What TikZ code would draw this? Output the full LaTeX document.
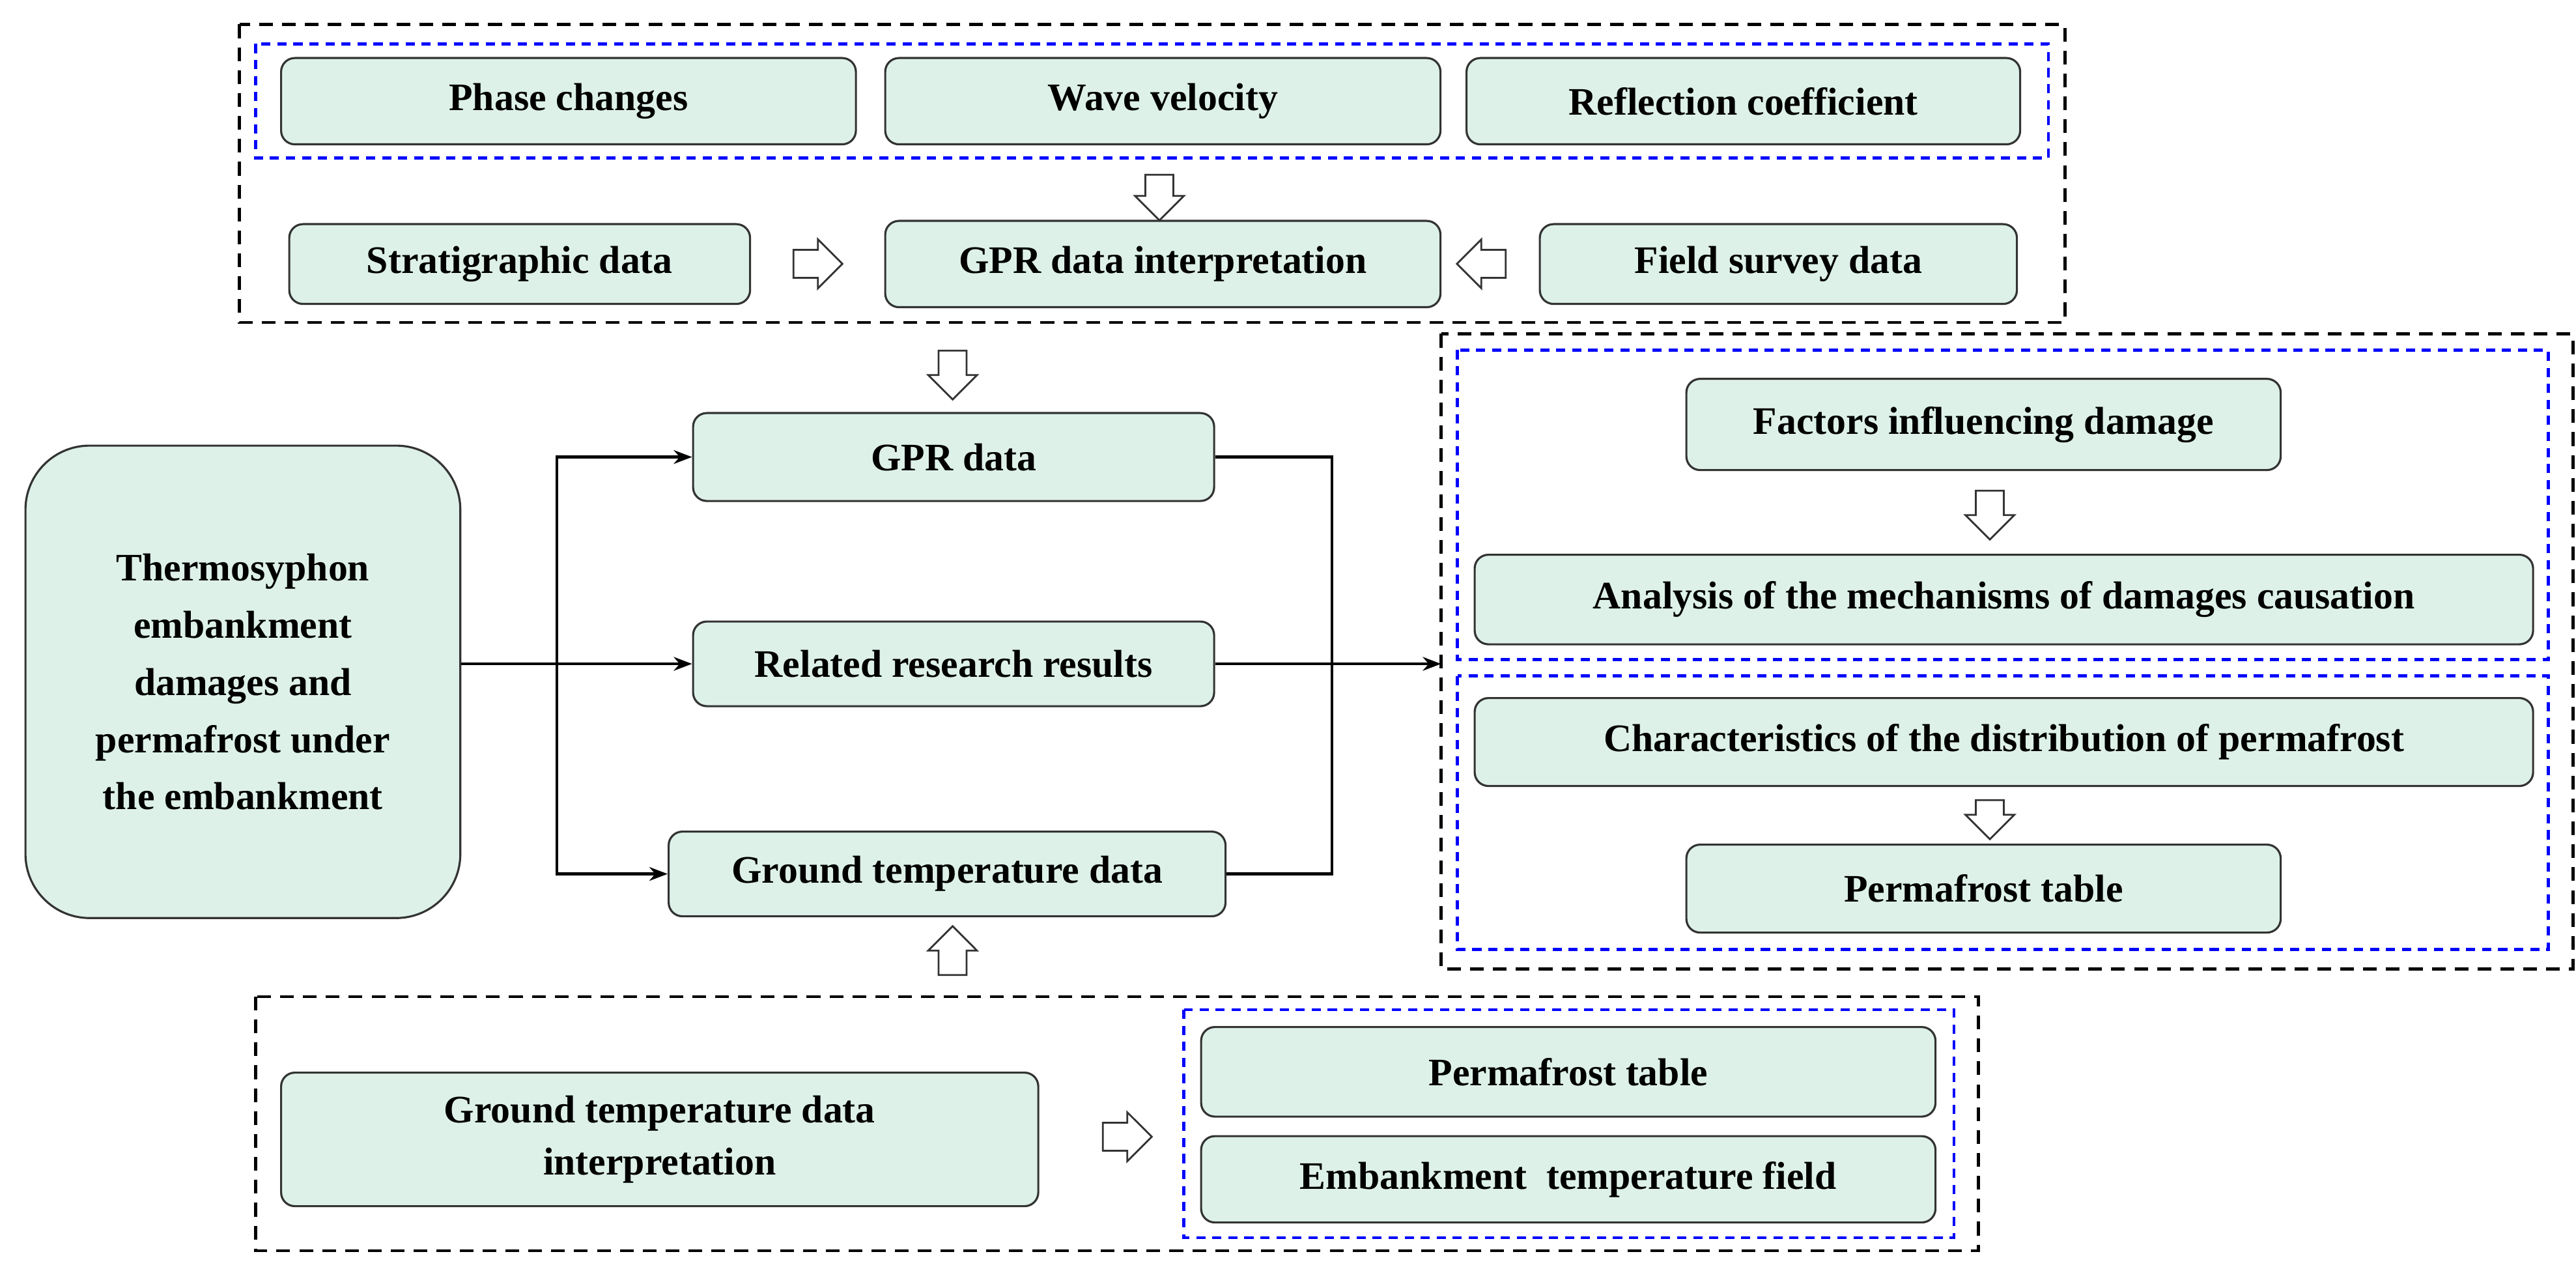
\documentclass[tikz,border=0pt]{standalone}
\usepackage{fontspec}
\setmainfont{Liberation Serif}
\usetikzlibrary{shapes.arrows,arrows.meta}
\definecolor{boxfill}{HTML}{DDF1E8}
\definecolor{boxline}{HTML}{333333}
\begin{document}
\begin{tikzpicture}[x=0.025cm,y=-0.025cm,
 box/.style={draw=boxline,fill=boxfill,rounded corners=6pt,line width=0.9pt,font=\fontsize{17}{21}\selectfont\bfseries,align=center},
 blk/.style={draw=black,dashed,line width=1.4pt,dash pattern=on 6pt off 4pt},
 blu/.style={draw=blue,dashed,line width=1.2pt,dash pattern=on 4pt off 3pt},
 harrow/.style={single arrow,draw=boxline,fill=white,line width=0.8pt,minimum height=0.75cm,minimum width=0.75cm,single arrow head extend=0.1cm,inner xsep=0pt,inner ysep=0.12cm},
 con/.style={line width=1.2pt,-{Stealth[length=8pt,width=6pt]}},
 ln/.style={line width=1.2pt}]
\useasboundingbox (0,0) rectangle (1582,787);
\newcommand\bx[6]{\node[box,minimum width=(#4-#2)*0.025cm,minimum height=(#5-#3)*0.025cm,anchor=north west] (#1) at (#2,#3) {#6};}
% top group
\draw[blk] (147,15) rectangle (1268,198);
\draw[blu] (157,27) rectangle (1258,97);
\bx{pc}{172}{35}{525}{88}{Phase changes}
\bx{wv}{543}{35}{884}{88}{Wave velocity}
\bx{rc}{900}{35}{1240}{88}{Reflection coefficient}
\bx{sd}{177}{137}{460}{186}{Stratigraphic data}
\bx{gi}{543}{135}{884}{188}{GPR data interpretation}
\bx{fs}{945}{137}{1238}{186}{Field survey data}
\node[harrow,rotate=-90,minimum height=0.7cm] (a1) at (712,117) {};
\node[harrow] (a2) at (498,162) {};
\node[harrow,rotate=180] (a3) at (914,162) {};
\node[harrow,rotate=-90] (a4) at (585,226) {};
% middle
\node[box,rounded corners=28pt,minimum width=6.675cm,minimum height=7.25cm,anchor=north west] (th) at (15,273) {Thermosyphon\\[4pt]embankment\\[4pt]damages and\\[4pt]permafrost under\\[4pt]the embankment};
\bx{gd}{425}{253}{745}{307}{GPR data}
\bx{rr}{425}{381}{745}{433}{Related research results}
\bx{gt}{410}{510}{752}{562}{Ground temperature data}
\coordinate (spx) at (342,0);
\coordinate (mgx) at (818,0);
\coordinate (rtx) at (885,0);
\coordinate (sp) at (rr.west -| spx);
\draw[ln] (th.east |- sp) -- (sp);
\draw[con] (sp) |- (gd.west);
\draw[con] (sp) -- (rr.west);
\draw[con] (sp) |- (gt.west);
\coordinate (mg) at (rr.east -| mgx);
\draw[ln] (gd.east) -| (mg);
\draw[ln] (gt.east) -| (mg);
\coordinate (rt) at (rr.east -| rtx);
\draw[con] (rr.east) -- (rt);
% right group
\draw[blk] (885,205) rectangle (1580,595);
\draw[blu] (895,215) rectangle (1565,405);
\draw[blu] (895,415) rectangle (1565,583);
\bx{fi}{1035}{232}{1400}{288}{Factors influencing damage}
\bx{an}{905}{340}{1555}{395}{Analysis of the mechanisms of damages causation}
\bx{ch}{905}{428}{1555}{482}{Characteristics of the distribution of permafrost}
\bx{pt}{1035}{518}{1400}{572}{Permafrost table}
\node[harrow,rotate=-90] (a5) at (1222,312) {};
\node[harrow,rotate=-90,minimum height=0.6cm] (a6) at (1222,499) {};
% bottom group
\node[harrow,rotate=90] (a7) at (585,588) {};
\draw[blk] (157,612) rectangle (1215,768);
\bx{gti}{172}{658}{637}{740}{Ground temperature data\\[2pt]interpretation}
\node[harrow] (a8) at (688,698) {};
\draw[blu] (727,620) rectangle (1200,760);
\bx{pt2}{737}{630}{1188}{685}{Permafrost table}
\bx{et}{737}{697}{1188}{750}{Embankment~~temperature field}
\end{tikzpicture}
\end{document}
